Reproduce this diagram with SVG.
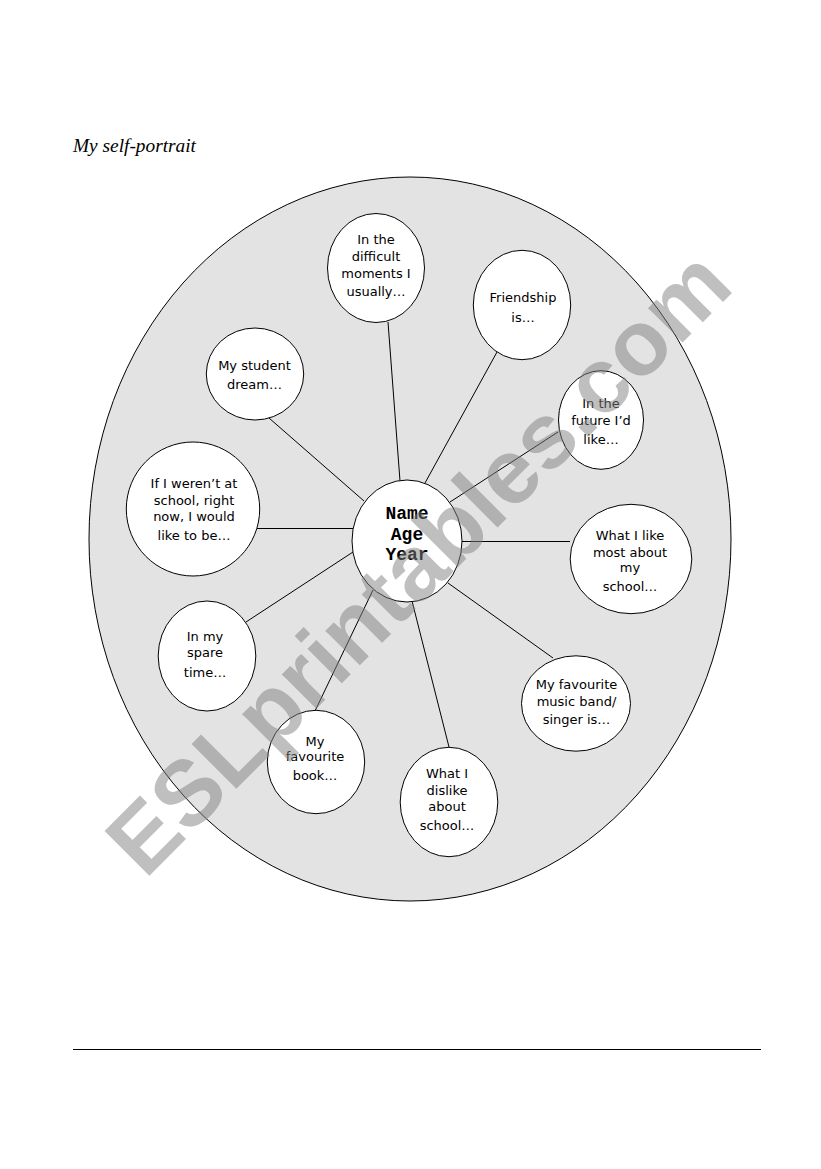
<svg xmlns="http://www.w3.org/2000/svg" width="821" height="1169" viewBox="0 0 821 1169">
<style>
.bg{fill:#e3e3e3;stroke:#000;stroke-width:1}
.n{fill:#fff;stroke:#000;stroke-width:1}
.c line{stroke:#000;stroke-width:1}
.t{font-family:"DejaVu Sans","Liberation Sans",sans-serif;font-size:13px;fill:#000;text-anchor:middle}
.m{font-family:"Liberation Mono","Courier New",monospace;font-size:18px;font-weight:bold;fill:#000;text-anchor:middle}
.title{font-family:"Liberation Serif","Times New Roman",serif;font-style:italic;font-size:18px;fill:#000}
.wm{font-family:"Liberation Sans",Arial,sans-serif;font-weight:bold;font-size:92px;fill:#808080;opacity:0.5}
</style>
<rect width="821" height="1169" fill="#fff"/>
<text class="title" x="73" y="152" textLength="123" lengthAdjust="spacingAndGlyphs">My self-portrait</text>
<ellipse id="frame" class="bg" cx="410" cy="539" rx="321" ry="362"/>
<g id="connectors" class="c">
<line x1="388" y1="322" x2="400" y2="481"/>
<line x1="269" y1="418" x2="364" y2="501"/>
<line x1="497" y1="352" x2="425" y2="483"/>
<line x1="558" y1="432" x2="450" y2="502"/>
<line x1="257" y1="528.5" x2="353" y2="528.5"/>
<line x1="462" y1="541.5" x2="570" y2="541.5"/>
<line x1="448" y1="583" x2="553" y2="658"/>
<line x1="353" y1="552" x2="246" y2="622"/>
<line x1="373" y1="590" x2="315" y2="711"/>
<line x1="412" y1="601" x2="449" y2="747"/>
</g>
<g id="node-difficult">
<ellipse class="n" cx="376" cy="268" rx="48.5" ry="54.5"/>
<text class="t"><tspan x="376" y="244">In the</tspan><tspan x="376" y="261">difficult</tspan><tspan x="376" y="278">moments I</tspan><tspan x="376" y="296">usually…</tspan></text>
</g>
<g id="node-dream">
<ellipse class="n" cx="255" cy="374" rx="48.7" ry="46"/>
<text class="t"><tspan x="254.5" y="369.5">My student</tspan><tspan x="254.5" y="388.5">dream…</tspan></text>
</g>
<g id="node-friendship">
<ellipse class="n" cx="522" cy="305" rx="48.7" ry="54.7"/>
<text class="t"><tspan x="523" y="302">Friendship</tspan><tspan x="523" y="322">is…</tspan></text>
</g>
<g id="node-future">
<ellipse class="n" cx="601" cy="420" rx="42.5" ry="49.3"/>
<text class="t"><tspan x="601" y="408">In the</tspan><tspan x="601" y="425">future I’d</tspan><tspan x="601" y="444">like…</tspan></text>
</g>
<g id="node-school">
<ellipse class="n" cx="193" cy="509" rx="66.7" ry="67"/>
<text class="t"><tspan x="194" y="488">If I weren’t at</tspan><tspan x="194" y="505">school, right</tspan><tspan x="194" y="521">now, I would</tspan><tspan x="194" y="540">like to be…</tspan></text>
</g>
<g id="node-like">
<ellipse class="n" cx="631" cy="559" rx="60.8" ry="54.7"/>
<text class="t"><tspan x="630" y="540">What I like</tspan><tspan x="630" y="556.5">most about</tspan><tspan x="630" y="572">my</tspan><tspan x="630" y="591">school…</tspan></text>
</g>
<g id="node-music">
<ellipse class="n" cx="576" cy="703.5" rx="54.5" ry="47.7"/>
<text class="t"><tspan x="576.5" y="689">My favourite</tspan><tspan x="576.5" y="705.5">music band/</tspan><tspan x="576.5" y="724">singer is…</tspan></text>
</g>
<g id="node-spare">
<ellipse class="n" cx="207" cy="656" rx="48.8" ry="55"/>
<text class="t"><tspan x="205" y="641">In my</tspan><tspan x="205" y="657">spare</tspan><tspan x="205" y="677">time…</tspan></text>
</g>
<g id="node-book">
<ellipse class="n" cx="316" cy="762" rx="48.7" ry="51.7"/>
<text class="t"><tspan x="315" y="746">My</tspan><tspan x="315" y="761">favourite</tspan><tspan x="315" y="780">book…</tspan></text>
</g>
<g id="node-dislike">
<ellipse class="n" cx="449" cy="802" rx="48.8" ry="54.7"/>
<text class="t"><tspan x="447" y="778">What I</tspan><tspan x="447" y="795">dislike</tspan><tspan x="447" y="811">about</tspan><tspan x="447" y="830">school…</tspan></text>
</g>
<g id="node-center">
<ellipse class="n" cx="407" cy="541" rx="55" ry="61"/>
<text class="m"><tspan x="407" y="519">Name</tspan><tspan x="407" y="540">Age</tspan><tspan x="407" y="560">Year</tspan></text>
</g>
<line x1="73" y1="1049.5" x2="761" y2="1049.5" stroke="#000" stroke-width="1"/>
<text class="wm" transform="translate(145,880) rotate(-45)" x="0" y="0" textLength="836" lengthAdjust="spacingAndGlyphs">ESLprintables.com</text>
</svg>
